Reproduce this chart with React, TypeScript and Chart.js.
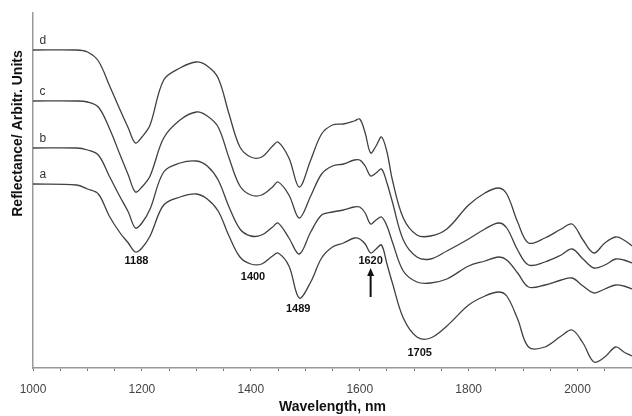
import React, { useEffect, useRef } from "react";
import { Chart, registerables } from "chart.js";

Chart.register(...registerables);

// Wavelength grid (nm)
const WAVELENGTHS = [
  1000, 1080, 1100, 1120, 1140, 1160, 1175, 1188, 1200, 1215, 1240, 1270, 1300, 1320, 1340, 1360,
  1380, 1400, 1420, 1440, 1450, 1470, 1489, 1510, 1530, 1550, 1570, 1590, 1600, 1610, 1620, 1630,
  1640, 1650, 1660, 1680, 1705, 1730, 1760, 1800, 1830, 1855, 1870, 1890, 1910, 1940, 1970, 1990,
  2010, 2030, 2050, 2070, 2085, 2100,
];

// Reflectance (arbitrary units, offset spectra)
const SPECTRUM_D = [
  3.18, 3.18, 3.16, 3.07, 2.83, 2.58, 2.40, 2.25, 2.31, 2.43, 2.88, 3.00, 3.06, 3.02, 2.90, 2.54,
  2.21, 2.11, 2.11, 2.22, 2.26, 2.10, 1.81, 2.08, 2.34, 2.43, 2.44, 2.47, 2.49, 2.35, 2.15, 2.22,
  2.31, 2.16, 1.88, 1.50, 1.33, 1.32, 1.39, 1.63, 1.75, 1.80, 1.74, 1.46, 1.25, 1.30, 1.39, 1.44,
  1.28, 1.15, 1.25, 1.31, 1.28, 1.22,
];
const SPECTRUM_C = [
  2.67, 2.67, 2.66, 2.61, 2.40, 2.13, 1.93, 1.76, 1.81, 1.92, 2.30, 2.48, 2.56, 2.52, 2.41, 2.10,
  1.82, 1.73, 1.73, 1.81, 1.86, 1.73, 1.50, 1.72, 1.94, 2.02, 2.04, 2.08, 2.08, 2.02, 1.92, 1.95,
  1.99, 1.85, 1.66, 1.28, 1.11, 1.09, 1.17, 1.29, 1.39, 1.45, 1.40, 1.18, 1.03, 1.06, 1.13, 1.19,
  1.09, 1.00, 1.03, 1.09, 1.08, 1.05,
];
const SPECTRUM_B = [
  2.20, 2.20, 2.18, 2.13, 1.92, 1.71, 1.56, 1.40, 1.45, 1.59, 1.96, 2.05, 2.07, 2.02, 1.88, 1.61,
  1.39, 1.32, 1.33, 1.41, 1.45, 1.30, 1.14, 1.36, 1.53, 1.56, 1.58, 1.61, 1.61, 1.55, 1.44, 1.48,
  1.51, 1.42, 1.26, 0.97, 0.86, 0.85, 0.89, 1.02, 1.07, 1.11, 1.08, 0.95, 0.81, 0.83, 0.88, 0.90,
  0.82, 0.75, 0.79, 0.83, 0.82, 0.79,
];
const SPECTRUM_A = [
  1.84, 1.83, 1.79, 1.74, 1.52, 1.35, 1.25, 1.16, 1.20, 1.32, 1.63, 1.71, 1.74, 1.69, 1.57, 1.32,
  1.11, 1.04, 1.04, 1.12, 1.15, 1.02, 0.70, 0.86, 1.10, 1.21, 1.25, 1.30, 1.29, 1.24, 1.15, 1.19,
  1.23, 1.04, 0.85, 0.50, 0.31, 0.30, 0.42, 0.63, 0.72, 0.76, 0.72, 0.49, 0.21, 0.21, 0.32, 0.38,
  0.25, 0.06, 0.11, 0.21, 0.16, 0.12,
];

const CURVE_NAMES = ["d", "c", "b", "a"];
const CURVES = [SPECTRUM_D, SPECTRUM_C, SPECTRUM_B, SPECTRUM_A];

// Band annotations
const BAND_TEXT = ["1188", "1400", "1489", "1620", "1705"];
const BAND_WL = [1190, 1404, 1487, 1620, 1710];
const BAND_LEVEL = [1.07, 0.91, 0.59, 1.07, 0.15];
const ARROW_WL = 1620;
const ARROW_FROM = 0.71;
const ARROW_TO = 1.0;

const X_MIN = 1000;
const X_MAX = 2100;
const X_LABEL_STEP = 200;
const X_MINOR_STEP = 50;
const Y_MIN = 0;
const Y_MAX = 3.55;
const Y_TITLE_LEVEL = 2.345;

const FONT = "'Liberation Sans', Arial, Helvetica, sans-serif";

const annotationPlugin = {
  id: "spectraAnnotations",
  afterDraw(chart: any) {
    const ctx = chart.ctx;
    const xs = chart.scales.x;
    const ys = chart.scales.y;
    ctx.save();
    // curve letters
    ctx.fillStyle = "#333";
    ctx.font = `12px ${FONT}`;
    ctx.textAlign = "left";
    ctx.textBaseline = "alphabetic";
    CURVES.forEach((arr, i) => {
      const px = xs.getPixelForValue(1012);
      const py = ys.getPixelForValue(arr[0]);
      ctx.fillText(CURVE_NAMES[i], px, py - 6);
    });
    // band labels
    ctx.fillStyle = "#111";
    ctx.font = `bold 11px ${FONT}`;
    ctx.textAlign = "center";
    ctx.textBaseline = "middle";
    BAND_TEXT.forEach((t, i) => {
      ctx.fillText(t, xs.getPixelForValue(BAND_WL[i]), ys.getPixelForValue(BAND_LEVEL[i]));
    });
    // arrow
    const ax = xs.getPixelForValue(ARROW_WL);
    const y0 = ys.getPixelForValue(ARROW_FROM);
    const y1 = ys.getPixelForValue(ARROW_TO);
    ctx.strokeStyle = "#111";
    ctx.lineWidth = 2;
    ctx.beginPath();
    ctx.moveTo(ax, y0);
    ctx.lineTo(ax, y1 + 6);
    ctx.stroke();
    ctx.fillStyle = "#111";
    ctx.beginPath();
    ctx.moveTo(ax, y1);
    ctx.lineTo(ax - 3.5, y1 + 8);
    ctx.lineTo(ax + 3.5, y1 + 8);
    ctx.closePath();
    ctx.fill();
    // y title
    ctx.save();
    ctx.translate(chart.chartArea.left - 15, ys.getPixelForValue(Y_TITLE_LEVEL));
    ctx.rotate(-Math.PI / 2);
    ctx.font = `bold 14px ${FONT}`;
    ctx.fillStyle = "#111";
    ctx.textAlign = "center";
    ctx.textBaseline = "middle";
    ctx.fillText("Reflectance/ Arbitr. Units", 0, 0);
    ctx.restore();
    ctx.restore();
  },
};

export default function App() {
  const ref = useRef<HTMLCanvasElement>(null);
  useEffect(() => {
    const canvas = ref.current;
    if (!canvas) return;
    const chart = new Chart(canvas, {
      type: "line",
      data: {
        datasets: CURVES.map((arr, i) => ({
          label: CURVE_NAMES[i],
          data: arr.map((v, j) => ({ x: WAVELENGTHS[j], y: v })),
          borderColor: "#404040",
          borderWidth: 1.3,
          pointRadius: 0,
          fill: false,
          tension: 0.35,
        })),
      },
      options: {
        responsive: false,
        animation: false,
        devicePixelRatio: 1,
        layout: { padding: { top: 13, left: 0, right: 0, bottom: 0 }, autoPadding: false },
        plugins: { legend: { display: false }, tooltip: { enabled: false } },
        scales: {
          x: {
            type: "linear",
            min: X_MIN,
            max: X_MAX,
            afterFit: (s: any) => {
              s.height = 48;
              s.paddingLeft = 0;
              s.paddingRight = 0;
            },
            border: { color: "#999", width: 1.5 },
            grid: { drawOnChartArea: false, color: "#777", tickLength: 3, tickWidth: 1 },
            ticks: {
              stepSize: X_MINOR_STEP,
              autoSkip: false,
              maxRotation: 0,
              minRotation: 0,
              padding: 11,
              color: "#444",
              font: { family: FONT, size: 12 },
              callback: (v: any) => (Number(v) % X_LABEL_STEP === 0 ? String(v) : ""),
            },
            title: {
              display: true,
              text: "Wavelength, nm",
              color: "#111",
              font: { family: FONT, size: 14, weight: "bold" },
              padding: { top: 0, bottom: 0 },
            },
          },
          y: {
            type: "linear",
            min: Y_MIN,
            max: Y_MAX,
            afterFit: (s: any) => {
              s.width = 33;
              s.paddingTop = 0;
              s.paddingBottom = 0;
            },
            border: { color: "#999", width: 1.5 },
            grid: { drawOnChartArea: false, drawTicks: false },
            ticks: { display: false },
          },
        },
      },
      plugins: [annotationPlugin],
    });
    return () => chart.destroy();
  }, []);
  return (
    <div style={{ position: "fixed", left: 0, top: 0, width: 632, height: 416, background: "#fff" }}>
      <canvas ref={ref} width={632} height={416} style={{ width: 632, height: 416, display: "block" }} />
    </div>
  );
}
